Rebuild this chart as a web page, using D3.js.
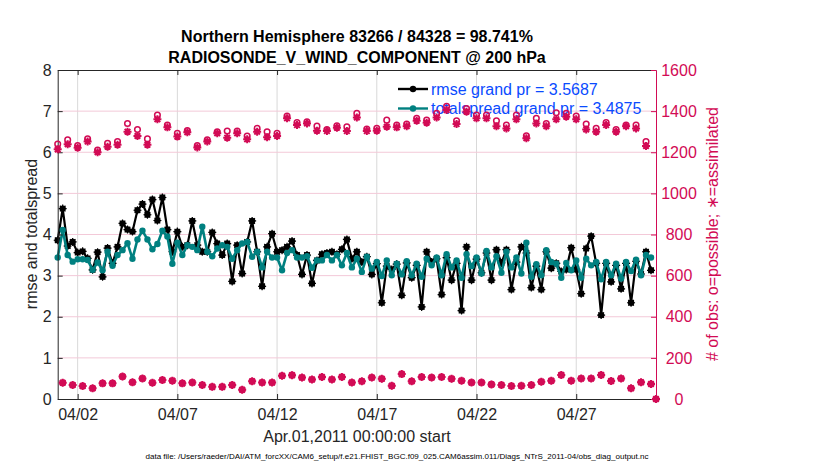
<!DOCTYPE html>
<html>
<head>
<meta charset="utf-8">
<script src="https://cdn.jsdelivr.net/npm/d3@7"></script>
<style>
  body { margin: 0; background: #fff; }
  text { font-family: Arial, "Liberation Sans", Helvetica, sans-serif; }
</style>
</head>
<body>
<div id="chart"></div>
<script>
// 6-hourly bins starting Apr 1 2011 00Z
const rmse = [
  3.86, 4.63, 3.72, 3.82, 3.56, 3.59, 3.42, 3.14, 3.57, 2.97,
  3.67, 3.30, 3.70, 4.27, 4.12, 4.07, 4.59, 4.74, 4.48, 4.85,
  4.34, 4.90, 4.12, 3.58, 4.07, 3.70, 3.74, 4.33, 3.74, 3.58,
  3.58, 4.05, 3.78, 3.50, 3.78, 2.86, 3.74, 3.05, 3.82, 4.33,
  3.58, 2.74, 3.70, 4.02, 3.58, 3.62, 3.70, 3.84, 3.50, 3.03,
  3.50, 2.81, 3.37, 3.52, 3.55, 3.58, 3.52, 3.64, 3.88, 3.41,
  3.58, 3.33, 3.46, 3.03, 3.29, 2.34, 3.23, 3.15, 3.28, 2.52,
  3.31, 2.95, 3.25, 2.24, 3.58, 3.33, 3.41, 2.54, 3.44, 2.89,
  3.30, 2.15, 3.70, 2.89, 3.40, 3.07, 3.55, 2.89, 3.63, 3.31,
  3.63, 2.66, 3.33, 3.70, 3.55, 2.71, 3.23, 2.66, 3.58, 3.18,
  3.30, 3.10, 3.15, 3.68, 3.15, 2.56, 3.66, 3.96, 3.30, 2.04,
  3.30, 2.85, 3.25, 2.68, 3.30, 2.34, 3.35, 3.04, 3.58, 3.13
];
const spread = [
  3.44, 4.11, 3.50, 3.34, 3.40, 3.40, 3.38, 3.14, 3.32, 3.13,
  3.58, 3.24, 3.50, 3.62, 3.79, 3.41, 3.88, 4.09, 3.88, 3.64,
  3.77, 4.09, 3.95, 3.29, 3.80, 3.50, 3.74, 3.70, 3.62, 4.19,
  3.58, 3.47, 3.66, 3.74, 3.70, 3.41, 3.62, 3.78, 3.82, 3.46,
  3.58, 3.20, 3.58, 3.44, 3.44, 3.13, 3.55, 3.62, 3.44, 3.44,
  3.47, 3.19, 3.37, 3.37, 3.50, 3.37, 3.50, 3.25, 3.55, 3.20,
  3.41, 3.09, 3.46, 3.17, 3.33, 2.99, 3.37, 3.01, 3.29, 3.03,
  3.35, 3.01, 3.29, 2.97, 3.41, 3.25, 3.44, 3.01, 3.52, 3.20,
  3.37, 2.95, 3.52, 3.23, 3.44, 3.05, 3.60, 3.20, 3.47, 3.07,
  3.58, 3.20, 3.44, 3.05, 3.80, 2.97, 3.28, 3.01, 3.62, 3.33,
  3.29, 2.95, 3.31, 3.13, 3.37, 2.95, 3.41, 3.25, 3.33, 2.91,
  3.33, 3.01, 3.29, 2.93, 3.33, 3.11, 3.39, 3.01, 3.50, 3.44
];
const possible = [
  1240, 79, 1260, 68, 1232, 63, 1265, 52, 1211, 76,
  1244, 76, 1252, 109, 1340, 81, 1311, 100, 1265, 79,
  1381, 92, 1332, 89, 1292, 76, 1305, 80, 1232, 68,
  1260, 59, 1300, 59, 1303, 68, 1303, 45, 1279, 86,
  1316, 80, 1300, 80, 1292, 113, 1376, 116, 1344, 104,
  1348, 95, 1327, 107, 1311, 95, 1329, 107, 1324, 80,
  1389, 86, 1313, 104, 1316, 98, 1356, 64, 1332, 121,
  1337, 86, 1365, 107, 1356, 104, 1389, 107, 1424, 98,
  1353, 89, 1413, 80, 1381, 80, 1381, 71, 1353, 68,
  1332, 63, 1381, 64, 1280, 68, 1365, 84, 1340, 89,
  1392, 117, 1389, 89, 1376, 100, 1337, 100, 1316, 117,
  1344, 87, 1311, 100, 1332, 52, 1332, 81, 1252, 73,
  0
];
const assimilated = [
  1214, 79, 1239, 68, 1222, 63, 1252, 52, 1200, 76,
  1227, 76, 1236, 109, 1300, 81, 1279, 100, 1236, 79,
  1360, 92, 1321, 89, 1276, 76, 1297, 80, 1223, 68,
  1252, 59, 1292, 59, 1271, 68, 1292, 45, 1263, 86,
  1300, 80, 1273, 80, 1279, 113, 1365, 116, 1332, 104,
  1340, 95, 1305, 107, 1303, 95, 1319, 107, 1303, 80,
  1369, 86, 1303, 104, 1305, 98, 1324, 64, 1321, 121,
  1327, 86, 1353, 107, 1344, 104, 1369, 107, 1405, 98,
  1337, 89, 1397, 80, 1365, 80, 1365, 71, 1327, 68,
  1316, 63, 1360, 64, 1268, 68, 1340, 84, 1327, 89,
  1360, 117, 1373, 89, 1360, 100, 1311, 100, 1300, 117,
  1332, 87, 1300, 100, 1327, 52, 1316, 81, 1231, 73,
  0
];
const dateTicks = ["2011-04-02", "2011-04-07", "2011-04-12", "2011-04-17", "2011-04-22", "2011-04-27"];
const leftTicks = [0, 1, 2, 3, 4, 5, 6, 7, 8];
const rightTicks = [0, 200, 400, 600, 800, 1000, 1200, 1400, 1600];
const legendLabels = ["rmse grand pr = 3.5687", "totalspread grand pr = 3.4875"];
const titleLines = ["Northern Hemisphere 83266 / 84328 = 98.741%", "RADIOSONDE_V_WIND_COMPONENT @ 200 hPa"];
const xLabel = "Apr.01,2011 00:00:00 start";
const footer = "data file: /Users/raeder/DAI/ATM_forcXX/CAM6_setup/f.e21.FHIST_BGC.f09_025.CAM6assim.011/Diags_NTrS_2011-04/obs_diag_output.nc";

const W = 830, H = 470;
const plotL = 57.7, plotR = 656, plotT = 70, plotB = 399;
const pink = '#d20b55', teal = '#008080', axisCol = '#262626', blue = '#0a4bff';

const t0 = new Date(Date.UTC(2011, 3, 1));
const times = possible.map((d, i) => d3.utcHour.offset(t0, 6 * i));

const x = d3.scaleUtc()
    .domain([t0, new Date(Date.UTC(2011, 4, 1))])
    .range([plotL, plotR]);
const yL = d3.scaleLinear().domain([0, 8]).range([plotB, plotT]);
const yR = d3.scaleLinear().domain([0, 1600]).range([plotB, plotT]);

const svg = d3.select('#chart').append('svg')
    .attr('width', W).attr('height', H)
    .attr('viewBox', `0 0 ${W} ${H}`);

const tickDates = dateTicks.map(d => new Date(d + 'T00:00:00Z'));

// grid
svg.append('g').selectAll('line')
    .data(tickDates)
    .join('line')
    .attr('x1', d => x(d)).attr('x2', d => x(d))
    .attr('y1', plotT).attr('y2', plotB)
    .style('stroke', '#d9d9d9').style('stroke-width', 1);
svg.append('g').selectAll('line')
    .data(rightTicks.slice(1, -1))
    .join('line')
    .attr('x1', plotL).attr('x2', plotR)
    .attr('y1', d => yR(d)).attr('y2', d => yR(d))
    .style('stroke', '#f3c9d8').style('stroke-width', 1);

// legend (no box)
const legend = svg.append('g');
[[rmse, '#000'], [spread, teal]].forEach(([s, col], k) => {
    const ly = 89 + k * 19.5;
    legend.append('line')
        .attr('x1', 398).attr('x2', 428).attr('y1', ly).attr('y2', ly)
        .style('stroke', col).style('stroke-width', 2.4);
    legend.append('circle')
        .attr('cx', 413).attr('cy', ly).attr('r', 3.2)
        .style('fill', col);
    legend.append('text')
        .attr('x', 431).attr('y', ly + 5.5)
        .style('font-size', '16px').style('fill', blue)
        .text(legendLabels[k]);
});

// rmse and spread lines
const lineL = d3.line().x((d, i) => x(times[i])).y(d => yL(d));
const starPath = 'M-4,0H4M0,-4V4M-2.8,-2.8L2.8,2.8M-2.8,2.8L2.8,-2.8';

function series(values, col, lw, spikes) {
    const g = svg.append('g');
    g.append('path')
        .datum(values)
        .attr('d', lineL)
        .style('fill', 'none')
        .style('stroke', col)
        .style('stroke-width', lw)
        .style('stroke-linejoin', 'round');
    g.selectAll('circle')
        .data(values)
        .join('circle')
        .attr('cx', (d, i) => x(times[i]))
        .attr('cy', d => yL(d))
        .attr('r', 3.2)
        .style('fill', col);
    if (spikes) {
        g.selectAll('path.spk')
            .data(values)
            .join('path')
            .attr('class', 'spk')
            .attr('transform', (d, i) => `translate(${x(times[i])},${yL(d)})`)
            .attr('d', starPath)
            .style('stroke', col).style('stroke-width', 1.2);
    }
}
series(rmse, '#000', 2.2, true);
series(spread, teal, 2.6, false);

// obs counts: o = possible, * = assimilated
const obs = svg.append('g');
obs.selectAll('circle')
    .data(possible)
    .join('circle')
    .attr('cx', (d, i) => x(times[i]))
    .attr('cy', d => yR(d))
    .attr('r', 2.8)
    .style('fill', 'none')
    .style('stroke', pink)
    .style('stroke-width', 1.5);
obs.selectAll('path')
    .data(assimilated)
    .join('path')
    .attr('transform', (d, i) => `translate(${x(times[i])},${yR(d)})`)
    .attr('d', starPath)
    .style('stroke', pink)
    .style('stroke-width', 2);

// axes
function styleAxis(g, col) {
    g.selectAll('path.domain').style('stroke', col).style('stroke-width', 1);
    g.selectAll('.tick line').style('stroke', col);
    g.selectAll('text').style('font-size', '16px').style('fill', col)
        .style('font-family', 'Arial, "Liberation Sans", sans-serif');
}

const gBottom = svg.append('g')
    .attr('transform', `translate(0,${plotB})`)
    .call(d3.axisBottom(x).tickValues(tickDates).tickSize(-5).tickSizeOuter(0)
        .tickPadding(9.5).tickFormat(d3.utcFormat('%m/%d')));
styleAxis(gBottom, axisCol);

const gTop = svg.append('g')
    .attr('transform', `translate(0,${plotT})`)
    .call(d3.axisTop(x).tickValues(tickDates).tickSize(-5).tickSizeOuter(0).tickFormat(''));
styleAxis(gTop, axisCol);

const gLeft = svg.append('g')
    .attr('transform', `translate(${plotL},0)`)
    .call(d3.axisLeft(yL).tickValues(leftTicks).tickSize(-5).tickSizeOuter(0).tickPadding(6));
styleAxis(gLeft, axisCol);

const gRight = svg.append('g')
    .attr('transform', `translate(${plotR},0)`)
    .call(d3.axisRight(yR).tickValues(rightTicks).tickSize(-5).tickSizeOuter(0)
        .tickFormat(d3.format('d')));
styleAxis(gRight, pink);
gRight.selectAll('text').attr('x', 23).style('text-anchor', 'middle');

// zero-count marker sits on the right edge, keep it on top
obs.raise();

// titles and labels
svg.selectAll('text.title')
    .data(titleLines)
    .join('text')
    .attr('class', 'title')
    .attr('x', 357).attr('y', (d, i) => 42 + i * 20.5)
    .style('text-anchor', 'middle')
    .style('font-size', '16px').style('font-weight', 'bold').style('fill', '#000')
    .text(d => d);

svg.append('text')
    .attr('x', 357).attr('y', 441.5)
    .style('text-anchor', 'middle').style('font-size', '16px').style('fill', axisCol)
    .text(xLabel);

svg.append('text')
    .attr('transform', 'translate(37,234) rotate(-90)')
    .style('text-anchor', 'middle').style('font-size', '16px').style('fill', axisCol)
    .text('rmse and totalspread');

svg.append('text')
    .attr('transform', 'translate(718,234) rotate(-90)')
    .style('text-anchor', 'middle').style('font-size', '16px').style('fill', pink)
    .text('# of obs: o=possible; \u2217=assimilated');

svg.append('text')
    .attr('x', 397).attr('y', 459)
    .attr('textLength', 503).attr('lengthAdjust', 'spacingAndGlyphs')
    .style('text-anchor', 'middle').style('font-size', '7px').style('fill', '#000')
    .text(footer);
</script>
</body>
</html>
